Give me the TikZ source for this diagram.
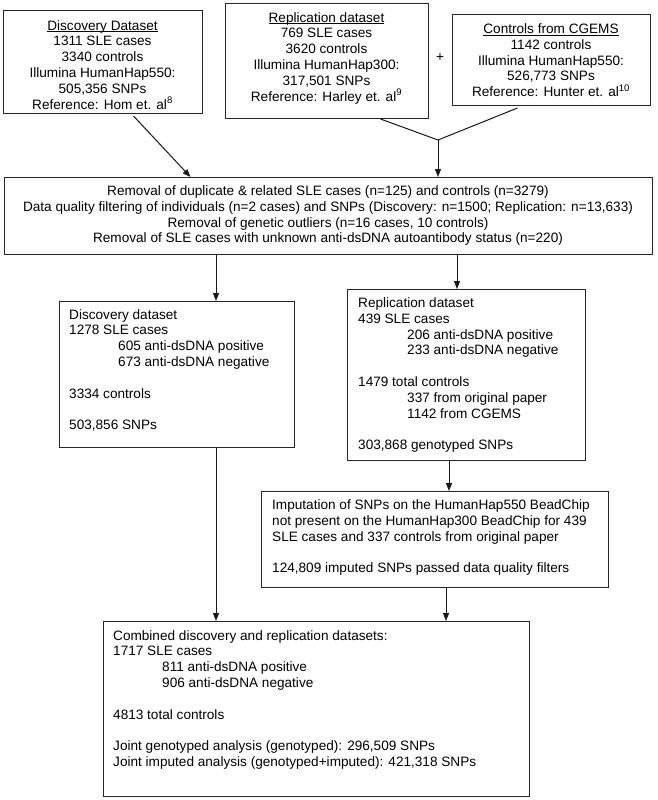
\documentclass[tikz,border=0pt]{standalone}
\usepackage{fontspec}
\setmainfont{Liberation Sans}
\usetikzlibrary{arrows.meta}
\newcommand{\myfs}{\fontsize{13.6}{15.8}\selectfont}
\newcommand{\ind}{\hspace*{49pt}}
\newcommand{\myul}[1]{\setbox0\hbox{#1}\rlap{\rule[-1.9pt]{\wd0}{0.7pt}}\box0}
\begin{document}
\begin{tikzpicture}[x=1pt,y=-1pt,
  box/.style={draw=black!85, line width=1pt, inner sep=0pt, anchor=north west},
  ctext/.style={inner sep=0pt, anchor=north, align=center, font=\myfs},
  ltext/.style={inner sep=0pt, anchor=north west, align=left, font=\myfs},
  arr/.style={draw=black!90, line width=1pt, -{Triangle[length=8pt,width=6pt]}},
  ln/.style={draw=black!90, line width=1pt}]
\useasboundingbox (0,0) rectangle (657,800);
\fill[white] (0,0) rectangle (657,800);

% top boxes
\node[box, minimum width=199pt, minimum height=103pt] (b1) at (3,10) {};
\node[ctext] (t1) at (102.5,20) {\myul{Discovery Dataset}\\1311 SLE cases\\3340 controls\\Illumina HumanHap550:\\505,356 SNPs\\Reference: Hom et. al\textsuperscript{8}};

\node[box, minimum width=203pt, minimum height=115pt] (b2) at (225,3) {};
\node[ctext] (t2) at (326.5,12) {\myul{Replication dataset}\\769 SLE cases\\3620 controls\\Illumina HumanHap300:\\317,501 SNPs\\Reference: Harley et. al\textsuperscript{9}};

\node[font=\myfs, inner sep=0pt] (plus) at (440,58) {+};

\node[box, minimum width=198pt, minimum height=91pt] (b3) at (452,14) {};
\node[ctext] (t3) at (551,23.5) {\myul{Controls from CGEMS}\\1142 controls\\Illumina HumanHap550:\\526,773 SNPs\\Reference: Hunter et. al\textsuperscript{10}};

% filtering box
\node[box, minimum width=648pt, minimum height=77pt] (big) at (4,177) {};
\node[ctext] (tb) at (328,185.5) {Removal of duplicate \& related SLE cases (n=125) and controls (n=3279)\\Data quality filtering of individuals (n=2 cases) and SNPs (Discovery: n=1500; Replication: n=13,633)\\Removal of genetic outliers (n=16 cases, 10 controls)\\Removal of SLE cases with unknown anti-dsDNA autoantibody status (n=220)};

% discovery dataset
\node[box, minimum width=235pt, minimum height=146pt] (disc) at (59,301) {};
\node[ltext] (td) at (69,309) {Discovery dataset\\1278 SLE cases\\\ind 605 anti-dsDNA positive\\\ind 673 anti-dsDNA negative\\[15.8pt]3334 controls\\[15.8pt]503,856 SNPs};

% replication dataset
\node[box, minimum width=238pt, minimum height=171pt] (repl) at (347,289) {};
\node[ltext] (tr) at (358,297.5) {Replication dataset\\439 SLE cases\\\ind 206 anti-dsDNA positive\\\ind 233 anti-dsDNA negative\\[15.8pt]1479 total controls\\\ind 337 from original paper\\\ind 1142 from CGEMS\\[15.8pt]303,868 genotyped SNPs};

% imputation
\node[box, minimum width=347pt, minimum height=96pt] (imp) at (261,491) {};
\node[ltext] (ti) at (272,499.5) {Imputation of SNPs on the HumanHap550 BeadChip\\not present on the HumanHap300 BeadChip for 439\\SLE cases and 337 controls from original paper\\[15.8pt]124,809 imputed SNPs passed data quality filters};

% combined
\node[box, minimum width=426pt, minimum height=175pt] (comb) at (103,621) {};
\node[ltext] (tc) at (113,630) {Combined discovery and replication datasets:\\1717 SLE cases\\\ind 811 anti-dsDNA positive\\\ind 906 anti-dsDNA negative\\[15.8pt]4813 total controls\\[15.8pt]Joint genotyped analysis (genotyped): 296,509 SNPs\\Joint imputed analysis (genotyped+imputed): 421,318 SNPs};

% connectors
\coordinate (j) at (438,140);
\coordinate (xa) at (216,0);
\coordinate (xb) at (457,0);
\coordinate (xc) at (449,0);
\coordinate (xd) at (446,0);
\draw[ln] ([xshift=53.5pt]b2.south) -- (j);
\draw[ln] ([xshift=-34pt,yshift=-2pt]b3.south) -- (j);
\draw[arr] (j) -- (j |- big.north);
\draw[arr] ([xshift=30.5pt,yshift=-2pt]b1.south) -- ([xshift=-138pt]big.north);
\draw[arr] (big.south -| xa) -- (disc.north -| xa);
\draw[arr] (big.south -| xb) -- (repl.north -| xb);
\draw[arr] (repl.south -| xc) -- (imp.north -| xc);
\draw[arr] (disc.south -| xa) -- (comb.north -| xa);
\draw[arr] (imp.south -| xd) -- (comb.north -| xd);
\end{tikzpicture}
\end{document}
